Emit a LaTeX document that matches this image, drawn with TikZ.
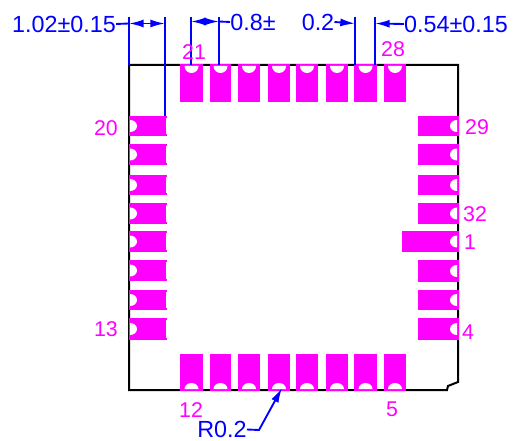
\documentclass[tikz,border=0pt]{standalone}
\usepackage{fontspec}
\setmainfont{Liberation Sans}
\usetikzlibrary{arrows.meta,calc}
\definecolor{dimblue}{RGB}{0,0,255}
\definecolor{pinmag}{RGB}{255,0,255}
\tikzset{
 outline/.style={draw=black,line width=1.5pt},
 pad/.style={fill=pinmag,draw=none},
 notch/.style={fill=white,draw=none},
 dim/.style={draw=dimblue,line width=1.4pt},
 dimarrow/.style={dim,-{Latex[length=11pt,width=6pt]}},
 dimtext/.style={text=dimblue,font=\fontsize{17.5}{17.5}\selectfont,inner sep=0pt,anchor=center},
 pintext/.style={text=pinmag,font=\fontsize{16}{16}\selectfont,inner sep=0pt,anchor=center},
}
\begin{document}
\begin{tikzpicture}[x=0.75pt,y=-0.75pt]
\useasboundingbox (0,0) rectangle (516,441);
\fill[white] (0,0) rectangle (516,441);
% outline
\draw[outline] (129,65) -- (458,65) -- (458,382) -- (448,386) -- (447,390) -- (129,390) -- cycle;
% top and bottom pads
\foreach \a/\b in {180/203,210/231,238/260,268/290,296/318,326/348,354/377,384/406}{
  \fill[pad] (\a,64.5) rectangle (\b,102);
  \fill[notch] ({(\a+\b)/2-7},66) arc[start angle=180,end angle=0,x radius=7,y radius=7] -- cycle;
  \fill[pad] (\a,354) rectangle (\b,390.5);
  \fill[notch] ({(\a+\b)/2-7},389) arc[start angle=180,end angle=360,x radius=7,y radius=6] -- cycle;
}
% left and right pads
\foreach \a/\b in {116/136,144/165,175/195,203/224,231/252,260/281,290/310,318/340}{
  \fill[pad] (128.5,\a) rectangle (167,\b);
  \fill[notch] (130,{(\a+\b)/2-6}) arc[start angle=-90,end angle=90,x radius=7,y radius=6] -- cycle;
  \fill[notch] (166,{\a+2}) rectangle (167.5,{\b-2});
}
\foreach \a/\b/\l in {116/136/418,144/165/418,175/195/418,203/224/418,231/252/402,260/282/418,290/310/418,318/340/418}{
  \fill[pad] (\l,\a) rectangle (458.5,\b);
  \fill[notch] (457,{(\a+\b)/2-6}) arc[start angle=-90,end angle=-270,x radius=7,y radius=6] -- cycle;
}
% extension line anchors
\coordinate (e1t) at (129,17); \coordinate (e1b) at (129,65);
\coordinate (e2t) at (165,17); \coordinate (e2b) at (165,116);
\coordinate (e3t) at (191,17); \coordinate (e3b) at (191,65);
\coordinate (e4t) at (219,17); \coordinate (e4b) at (219,65);
\coordinate (e5t) at (355,17); \coordinate (e5b) at (355,65);
\coordinate (e6t) at (375,17); \coordinate (e6b) at (375,65);
\foreach \n in {1,...,6}{\draw[dim] (e\n t) -- (e\n b);}
% dimension texts
\node[dimtext] (d1) at (64,24) {1.02±0.15};
\node[dimtext] (d2) at (253,22) {0.8±};
\node[dimtext] (d3) at (318,22) {0.2};
\node[dimtext] (d4) at (456,24) {0.54±0.15};
\node[dimtext] (d5) at (222,429.5) {R0.2};
% dimension arrows
\coordinate (a1l) at (129,23.5); \coordinate (a1r) at (165,23.5);
\coordinate (a2l) at (191,21.5); \coordinate (a2r) at (219,21.5);
\coordinate (a3) at (355,23.5); \coordinate (a4) at (375,23.5);
\draw[dim] (d1.east) -- (a1l);
\draw[dimarrow] ($(a1l)!0.5!(a1r)$) -- (a1l);
\draw[dimarrow] ($(a1l)!0.5!(a1r)$) -- (a1r);
\draw[dimarrow] ($(a2l)!0.5!(a2r)$) -- (a2l);
\draw[dimarrow] ($(a2l)!0.5!(a2r)$) -- (a2r);
\draw[dim] (a2r) -- (d2.west);
\draw[dimarrow] (d3.east) -- (a3);
\draw[dimarrow] (d4.west) -- (a4);
\coordinate (l1) at (259,430); \coordinate (l2) at (282,388);
\draw[dimarrow] (d5.east) -- (l1) -- (l2);
% pin labels
\node[pintext] (p21) at (194,52) {21};
\node[pintext] (p28) at (393,49) {28};
\node[pintext] (p20) at (106,128) {20};
\node[pintext] (p29) at (477,127) {29};
\node[pintext] (p32) at (475,214) {32};
\node[pintext] (p1) at (470,242) {1};
\node[pintext] (p4) at (468,332) {4};
\node[pintext] (p13) at (106,329) {13};
\node[pintext] (p12) at (191,410) {12};
\node[pintext] (p5) at (392,409) {5};
\end{tikzpicture}
\end{document}
